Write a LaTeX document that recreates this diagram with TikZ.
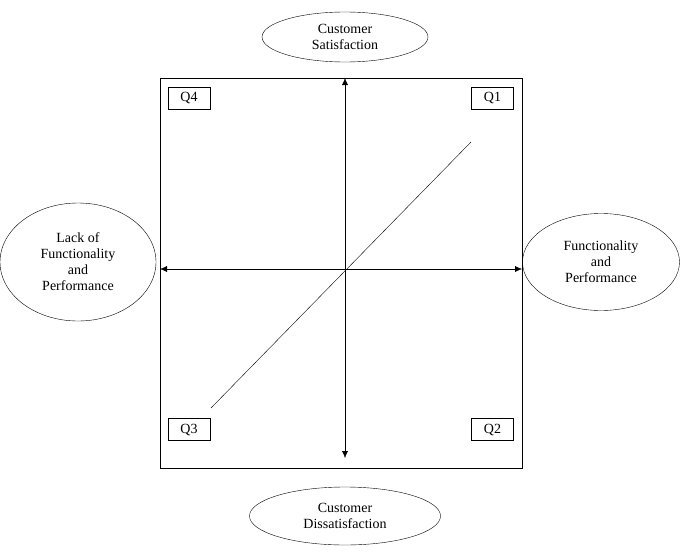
\documentclass[tikz,border=0pt]{standalone}
\usepackage{fontspec}
\setmainfont{Liberation Serif}
\usetikzlibrary{arrows.meta,shapes.geometric,positioning}
\tikzset{axisarrow/.style = {{Latex[length=7pt,width=6pt]}-{Latex[length=7pt,width=6pt]}}}

\begin{document}
\begin{tikzpicture}[x=1pt,y=-1pt,
    label/.style = {draw, ellipse, inner sep=0pt, align=center,
                    font=\fontsize{14}{16}\selectfont},
    quad/.style = {draw, minimum width=42pt, minimum height=22pt,
                   inner sep=0pt, font=\fontsize{14}{16}\selectfont}]
    \useasboundingbox (0,0) rectangle (682,551);
    \draw (160,78) rectangle (522,468);

    \coordinate (top) at (345,78);
    \coordinate (bottom) at (345,458);
    \coordinate (left) at (160,269);
    \coordinate (right) at (522,269);
    \coordinate (low) at (211,408);
    \coordinate (high) at (471,142);

    \draw[axisarrow] (top) -- (bottom);
    \draw[axisarrow] (left) -- (right);
    \draw (low) -- (high);

    \node[quad] (Q4) at (189,98) {Q4};
    \node[quad] (Q1) at (492.5,98) {Q1};
    \node[quad] (Q3) at (189,429.5) {Q3};
    \node[quad] (Q2) at (492.5,429.5) {Q2};

    \node[label, minimum width=166pt, minimum height=50pt] (sat) at (345,37)
        {Customer\\Satisfaction};
    \node[label, minimum width=156pt, minimum height=118pt] (lack) at (78,262)
        {Lack of\\Functionality\\and\\Performance};
    \node[label, minimum width=157pt, minimum height=97pt] (func) at (601,262)
        {Functionality\\and\\Performance};
    \node[label, minimum width=191pt, minimum height=58pt] (dis) at (345,516)
        {Customer\\Dissatisfaction};
\end{tikzpicture}
\end{document}
